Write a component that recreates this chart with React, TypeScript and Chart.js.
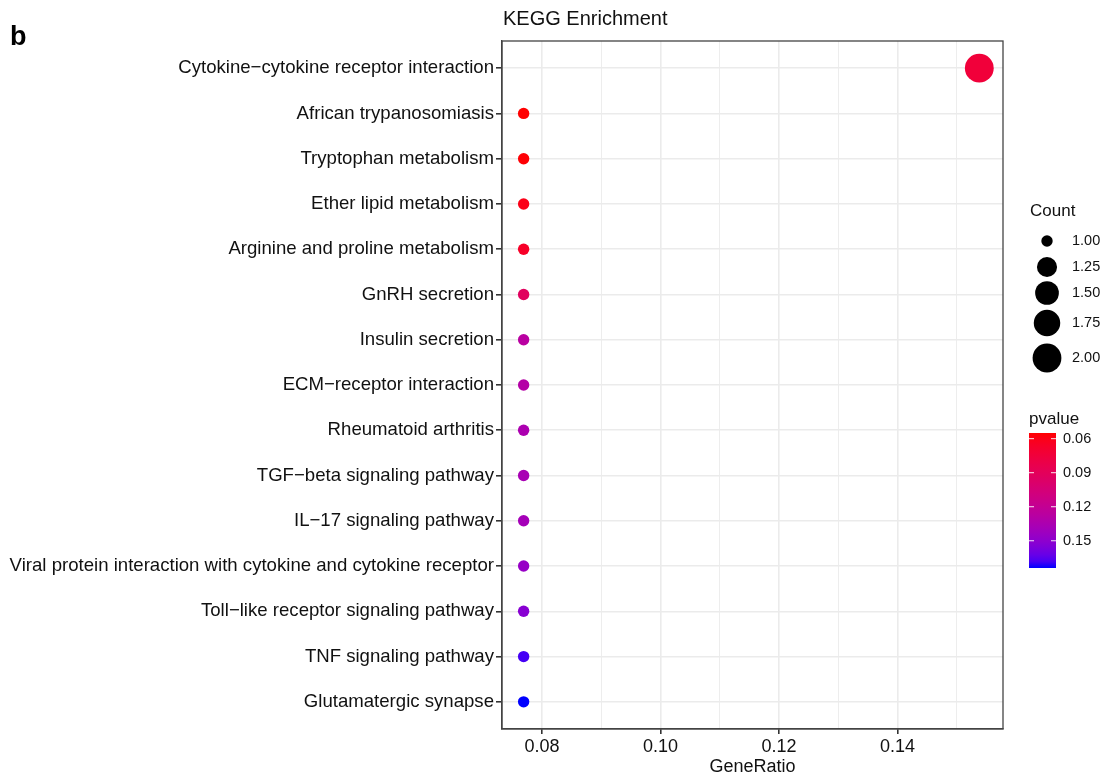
import { useEffect, useRef } from 'react';
import { Chart, registerables } from 'chart.js';

Chart.register(...registerables);

// ---------------- data ----------------
const pathways: string[] = [
  'Cytokine\u2212cytokine receptor interaction',
  'African trypanosomiasis',
  'Tryptophan metabolism',
  'Ether lipid metabolism',
  'Arginine and proline metabolism',
  'GnRH secretion',
  'Insulin secretion',
  'ECM\u2212receptor interaction',
  'Rheumatoid arthritis',
  'TGF\u2212beta signaling pathway',
  'IL\u221217 signaling pathway',
  'Viral protein interaction with cytokine and cytokine receptor',
  'Toll\u2212like receptor signaling pathway',
  'TNF signaling pathway',
  'Glutamatergic synapse',
];
const geneRatio: number[] = [
  0.1538, 0.0769, 0.0769, 0.0769, 0.0769, 0.0769, 0.0769, 0.0769,
  0.0769, 0.0769, 0.0769, 0.0769, 0.0769, 0.0769, 0.0769,
];
const counts: number[] = [2, 1, 1, 1, 1, 1, 1, 1, 1, 1, 1, 1, 1, 1, 1];
const pvalues: number[] = [
  0.074, 0.055, 0.056, 0.06, 0.066, 0.092, 0.127, 0.13,
  0.135, 0.137, 0.139, 0.146, 0.152, 0.169, 0.174,
];
const xMajorTicks: number[] = [0.08, 0.1, 0.12, 0.14];
const xMinorTicks: number[] = [0.09, 0.11, 0.13, 0.15];
const xLimits: number[] = [0.07325, 0.1578];
const countLegendValues: number[] = [1, 1.25, 1.5, 1.75, 2];
const countLimits: number[] = [1, 2];
const pvalueLegendTicks: number[] = [0.06, 0.09, 0.12, 0.15];
const pvalueLimits: number[] = [0.055, 0.174];

const chartTitle = 'KEGG Enrichment';
const xTitle = 'GeneRatio';
const panelTag = 'b';

// ---------------- styles ----------------
const FONT = '"Liberation Sans", Arial, Helvetica, sans-serif';
const TEXT = '#111111';
const GRID = '#EBEBEB';
const FRAME = '#444444';
const R_MIN = 5.7;
const R_MAX = 14.4;

// Lab interpolation (like ggplot's scale_colour_gradient)
function toLinear(c: number) {
  c /= 255;
  return c <= 0.04045 ? c / 12.92 : Math.pow((c + 0.055) / 1.055, 2.4);
}
function fromLinear(c: number) {
  const v = c <= 0.0031308 ? 12.92 * c : 1.055 * Math.pow(c, 1 / 2.4) - 0.055;
  return Math.max(0, Math.min(255, Math.round(v * 255)));
}
function rgbToLab(rgb: number[]) {
  const r = toLinear(rgb[0]), g = toLinear(rgb[1]), b = toLinear(rgb[2]);
  const X = (0.4124 * r + 0.3576 * g + 0.1805 * b) / 0.95047;
  const Y = 0.2126 * r + 0.7152 * g + 0.0722 * b;
  const Z = (0.0193 * r + 0.1192 * g + 0.9505 * b) / 1.08883;
  const f = (t: number) => (t > 0.008856 ? Math.cbrt(t) : 7.787 * t + 16 / 116);
  const fx = f(X), fy = f(Y), fz = f(Z);
  return [116 * fy - 16, 500 * (fx - fy), 200 * (fy - fz)];
}
function labToRgb(lab: number[]) {
  const fy = (lab[0] + 16) / 116;
  const fx = fy + lab[1] / 500;
  const fz = fy - lab[2] / 200;
  const inv = (f: number) => (f * f * f > 0.008856 ? f * f * f : (f - 16 / 116) / 7.787);
  const X = inv(fx) * 0.95047, Y = inv(fy), Z = inv(fz) * 1.08883;
  const r = 3.2406 * X - 1.5372 * Y - 0.4986 * Z;
  const g = -0.9689 * X + 1.8758 * Y + 0.0415 * Z;
  const b = 0.0557 * X - 0.204 * Y + 1.057 * Z;
  return `rgb(${fromLinear(r)},${fromLinear(g)},${fromLinear(b)})`;
}
const LOW_LAB = rgbToLab([255, 0, 0]);
const HIGH_LAB = rgbToLab([0, 0, 255]);
function colorFor(p: number) {
  let t = (p - pvalueLimits[0]) / (pvalueLimits[1] - pvalueLimits[0]);
  t = Math.max(0, Math.min(1, t));
  return labToRgb([0, 1, 2].map((k) => LOW_LAB[k] + (HIGH_LAB[k] - LOW_LAB[k]) * t));
}
function radiusFor(c: number) {
  const t = (c - countLimits[0]) / (countLimits[1] - countLimits[0]);
  return R_MIN + (R_MAX - R_MIN) * Math.sqrt(Math.max(0, t));
}

const isMajor = (v: number) => xMajorTicks.some((m) => Math.abs(m - v) < 1e-9);

const overlayPlugin = {
  id: 'overlay',
  beforeDatasetsDraw(chart: any) {
    const { ctx, chartArea: a } = chart;
    ctx.save();
    ctx.strokeStyle = FRAME;
    ctx.lineWidth = 1.3;
    ctx.strokeRect(a.left, a.top, a.right - a.left, a.bottom - a.top);
    ctx.restore();
  },
  afterDraw(chart: any) {
    const { ctx, chartArea: a } = chart;
    ctx.save();
    ctx.fillStyle = '#000';
    ctx.textBaseline = 'alphabetic';
    ctx.textAlign = 'left';
    ctx.font = `bold 27px ${FONT}`;
    ctx.fillText(panelTag, 10, 45);

    ctx.fillStyle = TEXT;
    ctx.font = `20px ${FONT}`;
    ctx.fillText(chartTitle, a.left + 1, 25);

    // Count legend
    ctx.font = `17px ${FONT}`;
    ctx.fillText('Count', 1030, 216);
    const keyY = [241, 267, 293, 323, 358];
    countLegendValues.forEach((v, i) => {
      ctx.beginPath();
      ctx.fillStyle = '#000';
      ctx.arc(1047, keyY[i], radiusFor(v), 0, Math.PI * 2);
      ctx.fill();
      ctx.fillStyle = TEXT;
      ctx.font = `14.5px ${FONT}`;
      ctx.textBaseline = 'middle';
      ctx.fillText(v.toFixed(2), 1072, keyY[i]);
      ctx.textBaseline = 'alphabetic';
    });

    // pvalue colour bar
    ctx.font = `17px ${FONT}`;
    ctx.fillStyle = TEXT;
    ctx.fillText('pvalue', 1029, 424);
    const bx = 1029, bw = 27, by = 433, bh = 135;
    const grad = ctx.createLinearGradient(0, by, 0, by + bh);
    for (let k = 0; k <= 20; k++) {
      const p = pvalueLimits[0] + (pvalueLimits[1] - pvalueLimits[0]) * (k / 20);
      grad.addColorStop(k / 20, colorFor(p));
    }
    ctx.fillStyle = grad;
    ctx.fillRect(bx, by, bw, bh);
    pvalueLegendTicks.forEach((p) => {
      const y = by + ((p - pvalueLimits[0]) / (pvalueLimits[1] - pvalueLimits[0])) * bh;
      ctx.strokeStyle = 'rgba(255,255,255,0.9)';
      ctx.lineWidth = 1;
      ctx.beginPath();
      ctx.moveTo(bx, y);
      ctx.lineTo(bx + 5, y);
      ctx.moveTo(bx + bw - 5, y);
      ctx.lineTo(bx + bw, y);
      ctx.stroke();
      ctx.fillStyle = TEXT;
      ctx.font = `14.5px ${FONT}`;
      ctx.textBaseline = 'middle';
      ctx.fillText(p.toFixed(2), 1063, y);
    });
    ctx.restore();
  },
};

export default function App() {
  const ref = useRef<HTMLCanvasElement | null>(null);
  useEffect(() => {
    document.body.style.margin = '0';
    const canvas = ref.current;
    if (!canvas) return;
    const chart = new Chart(canvas, {
      type: 'scatter',
      data: {
        datasets: [
          {
            data: pathways.map((_, i) => ({ x: geneRatio[i], y: i })),
            pointRadius: (c: any) => radiusFor(counts[c.dataIndex]),
            pointHoverRadius: (c: any) => radiusFor(counts[c.dataIndex]),
            pointBackgroundColor: (c: any) => colorFor(pvalues[c.dataIndex]),
            pointBorderWidth: 0,
            borderWidth: 0,
          } as any,
        ],
      },
      options: {
        responsive: false,
        animation: false,
        devicePixelRatio: 1,
        layout: { padding: { left: 0, top: 41, right: 104, bottom: 0 } },
        plugins: {
          legend: { display: false },
          tooltip: { enabled: false },
          title: { display: false },
        },
        scales: {
          x: {
            type: 'linear',
            min: xLimits[0],
            max: xLimits[1],
            afterBuildTicks: (s: any) => {
              s.ticks = [...xMajorTicks, ...xMinorTicks]
                .sort((p, q) => p - q)
                .map((v) => ({ value: v }));
            },
            afterFit: (s: any) => {
              s.height = 48;
            },
            grid: {
              color: GRID,
              lineWidth: (c: any) => (isMajor(c.tick?.value) ? 1.6 : 0.9),
              tickColor: (c: any) => (isMajor(c.tick?.value) ? '#333333' : 'rgba(0,0,0,0)'),
              tickLength: 5,
              drawOnChartArea: true,
            },
            border: { display: true, color: FRAME, width: 1.3 },
            ticks: {
              autoSkip: false,
              maxRotation: 0,
              padding: 2,
              color: TEXT,
              font: { family: FONT, size: 18 },
              callback: (v: any) => (isMajor(Number(v)) ? Number(v).toFixed(2) : ''),
            },
            title: {
              display: true,
              text: xTitle,
              color: TEXT,
              font: { family: FONT, size: 18 },
              padding: { top: 0, bottom: -1 },
            },
          },
          y: {
            type: 'linear',
            reverse: true,
            min: -0.6,
            max: pathways.length - 1 + 0.6,
            afterBuildTicks: (s: any) => {
              s.ticks = pathways.map((_, i) => ({ value: i }));
            },
            afterFit: (s: any) => {
              s.width = 502;
            },
            grid: {
              color: GRID,
              lineWidth: 1.6,
              tickColor: '#333333',
              tickLength: 6,
            },
            border: { display: true, color: FRAME, width: 1.3 },
            ticks: {
              autoSkip: false,
              padding: 2,
              color: TEXT,
              font: { family: FONT, size: 18.6 },
              callback: (v: any) => pathways[Math.round(Number(v))] ?? '',
            },
          },
        },
      } as any,
      plugins: [overlayPlugin],
    });
    return () => chart.destroy();
  }, []);
  return (
    <div style={{ width: 1107, height: 777, position: 'relative', background: '#fff' }}>
      <canvas ref={ref} width={1107} height={777} style={{ display: 'block' }} />
    </div>
  );
}
